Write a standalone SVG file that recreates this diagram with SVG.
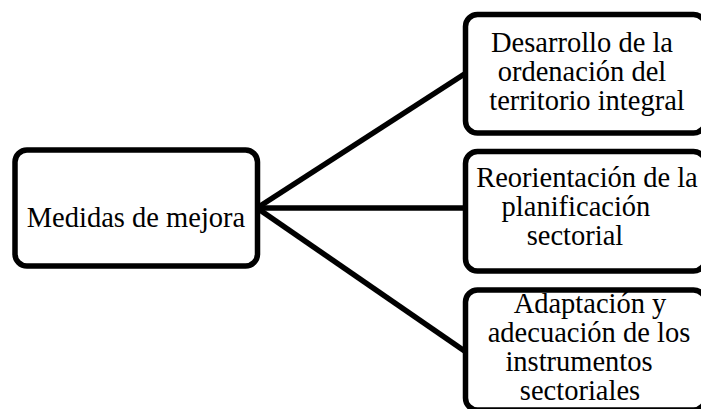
<svg xmlns="http://www.w3.org/2000/svg" width="701" height="409" viewBox="0 0 701 409">
  <style>
    .box { fill: #ffffff; stroke: #000000; stroke-width: 5.5; }
    .link { fill: none; stroke: #000000; stroke-width: 5.5; }
    .label { font-family: "Liberation Serif", "Times New Roman", serif; font-size: 28.5px; fill: #000000; text-anchor: middle; }
  </style>
  <rect width="701" height="409" fill="#ffffff"/>

  <g id="connectors">
    <line class="link" x1="257" y1="208" x2="466" y2="73"/>
    <line class="link" x1="257" y1="208" x2="466" y2="208"/>
    <line class="link" x1="257" y1="208" x2="466" y2="352"/>
  </g>

  <g id="medidas">
    <rect class="box" x="15" y="150" width="242.5" height="116" rx="12"/>
    <text class="label" x="136" y="227">Medidas de mejora</text>
  </g>

  <g id="desarrollo">
    <rect class="box" x="465.5" y="14.5" width="240" height="118.5" rx="12"/>
    <text class="label" x="582" y="52">Desarrollo de la</text>
    <text class="label" x="582" y="81">ordenación del</text>
    <text class="label" x="587" y="110">territorio integral</text>
  </g>

  <g id="reorientacion">
    <rect class="box" x="465.5" y="151.5" width="240" height="119.5" rx="12"/>
    <text class="label" x="587" y="187">Reorientación de la</text>
    <text class="label" x="576" y="216">planificación</text>
    <text class="label" x="575" y="245">sectorial</text>
  </g>

  <g id="adaptacion">
    <rect class="box" x="465.5" y="290" width="240" height="120" rx="12"/>
    <text class="label" x="590" y="313">Adaptación y</text>
    <text class="label" x="589" y="342">adecuación de los</text>
    <text class="label" x="579" y="371">instrumentos</text>
    <text class="label" x="580" y="400">sectoriales</text>
  </g>
</svg>
